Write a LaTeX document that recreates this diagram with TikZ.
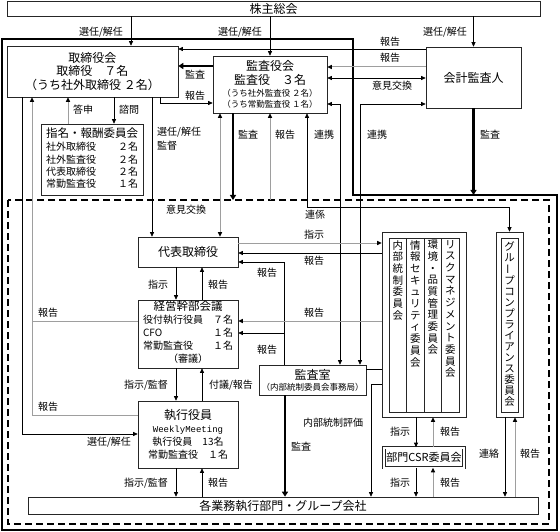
\documentclass[tikz,border=0pt]{standalone}
\usepackage{fontspec}
\setmainfont{Noto Sans CJK JP}
\newfontfamily\monofont{Liberation Mono}
\usepackage{graphicx}
\usetikzlibrary{arrows.meta}

\tikzset{
  box/.style={draw=black!85, line width=0.6pt, inner sep=0pt, align=center},
  arr/.style={-{Triangle[length=4.5pt,width=4pt,color=black]}},
  darr/.style={{Triangle[length=4.5pt,width=4pt,color=black]}-{Triangle[length=4.5pt,width=4pt,color=black]}},
  bln/.style={draw=black, line width=0.6pt},
  gln/.style={draw=black!38, line width=1pt},
  heavy/.style={draw=black, line width=2.2pt, -{Triangle[length=5pt,width=6pt]}},
  lbl/.style={font=\fontsize{10}{12}\selectfont, inner sep=0pt},
  vtxt/.style={font=\fontsize{10.5}{11.7}\selectfont, align=center, inner sep=0pt, anchor=north},
}

\begin{document}
\begin{tikzpicture}[x=1pt,y=-1pt]
\useasboundingbox (0,0) rectangle (560,532);

% outer frame and execution area
\draw[line width=1.6pt] (2,39) -- (353,39) -- (353,195) -- (557,195) -- (557,530) -- (2,530) -- cycle;
\draw[line width=1.4pt, dash pattern=on 7pt off 4pt] (8,200) rectangle (549,524);
\coordinate (dtop) at (8,200);
\coordinate (ftop) at (557,195);

% boxes
\node[box, minimum width=533pt, minimum height=15pt, font=\fontsize{12}{12}\selectfont] (soukai) at (273.5,8.5) {株主総会};
\node[box, minimum width=171pt, minimum height=51pt, font=\fontsize{12}{13.5}\selectfont] (torishimari) at (92.5,71.5) {取締役会\\取締役　７名\\（うち社外取締役\ ２名）};
\node[box, minimum width=114pt, minimum height=57pt, font=\fontsize{12}{14}\selectfont] (kansayaku) at (270,84.5) {監査役会\\監査役　３名\\[-2pt]{\fontsize{8.5}{10}\selectfont （うち社外監査役\ ２名）}\\[-3pt]{\fontsize{8.5}{10}\selectfont （うち常勤監査役\ １名）}};
\node[box, minimum width=95pt, minimum height=61pt, font=\fontsize{12}{12}\selectfont] (kaikei) at (473.5,77.5) {会計監査人};
\node[box, minimum width=102pt, minimum height=71pt, font=\fontsize{10}{12.3}\selectfont] (shimei) at (92,159.5) {\begin{tabular}{@{}l@{\hspace{22pt}}r@{}}\multicolumn{2}{@{}c@{}}{\fontsize{11.5}{13}\selectfont 指名・報酬委員会}\\[1pt] 社外取締役 & ２名\\ 社外監査役 & ２名\\ 代表取締役 & ２名\\ 常勤監査役 & １名\end{tabular}};
\node[box, minimum width=100pt, minimum height=30pt, font=\fontsize{12}{12}\selectfont] (daihyo) at (188,252) {代表取締役};
\node[box, minimum width=100pt, minimum height=68pt, font=\fontsize{10}{13}\selectfont] (keiei) at (188,334) {\begin{tabular}{@{}l@{\hspace{10pt}}r@{}}\multicolumn{2}{@{}c@{}}{\fontsize{11.5}{13}\selectfont 経営幹部会議}\\ 役付執行役員 & ７名\\ CFO & １名\\ 常勤監査役 & １名\\ \multicolumn{2}{@{}c@{}}{（審議）}\end{tabular}};
\node[box, minimum width=100pt, minimum height=67pt, font=\fontsize{10}{13}\selectfont] (shikko) at (188,434.5) {{\fontsize{12}{13}\selectfont 執行役員}\\{\monofont\fontsize{9}{12}\selectfont WeeklyMeeting}\\執行役員　13名\\常勤監査役　１名};
\node[box, minimum width=510pt, minimum height=17pt, font=\fontsize{12}{12}\selectfont] (kakugyomu) at (283,505.5) {各業務執行部門・グループ会社};
\node[box, minimum width=107pt, minimum height=30pt, font=\fontsize{12}{13}\selectfont] (kansashitsu) at (312.5,380) {監査室\\[-2pt]{\fontsize{8.5}{10}\selectfont （内部統制委員会事務局）}};
\node[box, double, double distance=2pt, minimum width=80pt, minimum height=20pt, font=\fontsize{11}{11}\selectfont] (csr) at (424,457.5) {部門CSR委員会};

% committees
\node[box, minimum width=84pt, minimum height=185pt] (iinkai) at (424,324.5) {};
\draw[black!85, line width=0.6pt] (389,238) rectangle (459,412);
\foreach \cx in {406.5,424,441.5}
  \draw[black!85, line width=0.6pt] (\cx,238) -- (\cx,412);
\node[vtxt] (naibu) at (397.75,240) {内\\部\\統\\制\\委\\員\\会};
\node[vtxt] (joho) at (415.25,240) {情\\報\\セ\\キ\\ュ\\リ\\テ\\ィ\\委\\員\\会};
\node[vtxt] (kankyo) at (432.75,240) {環\\境\\・\\品\\質\\管\\理\\委\\員\\会};
\node[vtxt] (risk) at (450.25,240) {リ\\ス\\ク\\マ\\ネ\\ジ\\メ\\ン\\ト\\委\\員\\会};

\node[box, minimum width=27pt, minimum height=185pt] (group) at (509.5,324.5) {};
\draw[black!85, line width=0.6pt] (501,238) rectangle (518,412);
\node[vtxt, font=\fontsize{10.5}{11}\selectfont] (grouptxt) at (509.5,241) {グ\\ル\\\rotatebox[origin=c]{90}{ー}\\プ\\コ\\ン\\プ\\ラ\\イ\\ア\\ン\\ス\\委\\員\\会};

% shareholders
\draw[bln,arr] (131,0 |- soukai.south) -- (131,0 |- torishimari.north);
\draw[bln,arr] (270,0 |- soukai.south) -- (kansayaku.north);
\draw[bln,arr] (kaikei.north |- soukai.south) -- (kaikei.north);
\node[lbl] (lbSen1) at (101,32) {選任/解任};
\node[lbl] (lbSen2) at (240,32) {選任/解任};
\node[lbl] (lbSen3) at (445,32) {選任/解任};

% accounting auditor
\draw[bln,arr] (kaikei.west |- 0,49) -- (torishimari.east |- 0,49);
\draw[gln,arr] (kaikei.west |- 0,67) -- (kansayaku.east |- 0,67);
\draw[bln,darr] (kansayaku.east |- 0,78) -- (kaikei.west |- 0,78);
\draw[heavy] (kaikei.south) -- (kaikei.south |- ftop);
\node[lbl] (lbHo1) at (390,42) {報告};
\node[lbl] (lbHo2) at (390,58) {報告};
\node[lbl] (lbIken1) at (392,86) {意見交換};
\node[lbl] (lbKan4) at (490,135) {監査};

% board and auditors
\draw[heavy] (kansayaku.west |- 0,66) -- (torishimari.east |- 0,66);
\draw[bln,arr] (160,0 |- torishimari.south) -- (160,103) -- (kansayaku.west |- 0,103);
\node[lbl] (lbKan1) at (195,75) {監査};
\node[lbl] (lbHo3) at (195,96) {報告};

\draw[gln,arr] (68,0 |- shimei.north) -- (68,0 |- torishimari.south);
\draw[bln,arr] (114,0 |- torishimari.south) -- (114,0 |- shimei.north);
\node[lbl] (lbTo) at (83,110) {答申};
\node[lbl] (lbShi) at (129,110) {諮問};

\draw[bln,arr] (152,0 |- torishimari.south) -- (152,0 |- daihyo.north);
\node[lbl, align=left, anchor=north west, font=\fontsize{10}{14}\selectfont] (lbKantoku) at (157,127) {選任/解任\\監督};

\draw[gln,darr] (220,0 |- daihyo.north) -- (220,0 |- kansayaku.south);
\node[lbl] (lbIken2) at (186,210) {意見交換};
\draw[heavy] (233,0 |- kansayaku.south) -- (233,0 |- dtop);
\draw[gln,arr] (270,0 |- dtop) -- (270,0 |- kansayaku.south);
\draw[bln,darr] (307,0 |- kansayaku.south) -- (307,207) -- (group.north |- 0,207) -- (group.north);
\draw[bln,darr] (340,0 |- kansashitsu.north) -- (340,104) -- (kansayaku.east |- 0,104);
\draw[bln,darr] (360,0 |- kansashitsu.north) -- (360,104) -- (kaikei.west |- 0,104);
\node[lbl] (lbKan2) at (248,135) {監査};
\node[lbl] (lbHo4) at (285,135) {報告};
\node[lbl] (lbRen1) at (324,135) {連携};
\node[lbl] (lbRen2) at (377,135) {連携};
\node[lbl] (lbRen3) at (315,215) {連係};

% president and committees
\draw[gln,arr] (daihyo.east |- 0,243) -- (iinkai.west |- 0,243);
\draw[bln,arr] (iinkai.west |- 0,253) -- (daihyo.east |- 0,253);
\draw[bln,arr] (284,0 |- kansashitsu.north) -- (284,262) -- (daihyo.east |- 0,262);
\draw[bln,arr] (284,333) -- (keiei.east |- 0,333);
\draw[gln,arr] (iinkai.west |- 0,321) -- (keiei.east |- 0,321);
\node[lbl] (lbShiji1) at (314,235) {指示};
\node[lbl] (lbHo5) at (314,261) {報告};
\node[lbl] (lbHo6) at (267,273) {報告};
\node[lbl] (lbHo7) at (314,313) {報告};
\node[lbl] (lbHo8) at (267,350) {報告};

% execution chain
\draw[bln,arr] (176,0 |- daihyo.south) -- (176,0 |- keiei.north);
\draw[bln,arr] (202,0 |- keiei.north) -- (202,0 |- daihyo.south);
\draw[bln,arr] (176,0 |- keiei.south) -- (176,0 |- shikko.north);
\draw[bln,arr] (202,0 |- shikko.north) -- (202,0 |- keiei.south);
\draw[bln,arr] (176,0 |- shikko.south) -- (176,0 |- kakugyomu.north);
\draw[bln,arr] (202,0 |- kakugyomu.north) -- (202,0 |- shikko.south);
\node[lbl] (lbShiji2) at (158,285) {指示};
\node[lbl] (lbHo9) at (218,285) {報告};
\node[lbl] (lbKantoku2) at (146,385) {指示/監督};
\node[lbl] (lbFugi) at (231,385) {付議/報告};
\node[lbl] (lbKantoku3) at (146,483) {指示/監督};
\node[lbl] (lbHo10) at (218,483) {報告};

% reports to the board
\draw[gln,arr] (keiei.west |- 0,321) -- (32,321) -- (32,0 |- torishimari.south);
\draw[gln] (shikko.west |- 0,415) -- (32,415) -- (32,321);
\draw[bln,arr] (22,0 |- torishimari.south) -- (22,434) -- (shikko.west |- 0,434);
\node[lbl] (lbHo11) at (48,313) {報告};
\node[lbl] (lbHo12) at (48,407) {報告};
\node[lbl] (lbSen4) at (109,442) {選任/解任};

% audit office
\draw[heavy] (285,0 |- kansashitsu.south) -- (285,0 |- kakugyomu.north);
\draw[bln] (kansashitsu.east |- 0,369) -- (iinkai.west |- 0,369);
\draw[bln,arr] (iinkai.west |- 0,384) -- (371,384) -- (371,0 |- kakugyomu.north);
\node[lbl] (lbNaibu) at (333,423) {内部統制評価};
\node[lbl] (lbKan3) at (301,447) {監査};

% CSR and compliance
\draw[bln,arr] (416,0 |- iinkai.south) -- (416,0 |- csr.north);
\draw[gln,arr] (433,0 |- csr.north) -- (433,0 |- iinkai.south);
\draw[bln,arr] (416,0 |- csr.south) -- (416,0 |- kakugyomu.north);
\draw[gln,arr] (433,0 |- kakugyomu.north) -- (433,0 |- csr.south);
\draw[bln,arr] (505,0 |- group.south) -- (505,0 |- kakugyomu.north);
\draw[gln,arr] (515,0 |- kakugyomu.north) -- (515,0 |- group.south);
\node[lbl] (lbShiji3) at (400,432) {指示};
\node[lbl] (lbHo13) at (450,432) {報告};
\node[lbl] (lbShiji4) at (400,483) {指示};
\node[lbl] (lbHo14) at (450,483) {報告};
\node[lbl] (lbRenraku) at (489,454) {連絡};
\node[lbl] (lbHo15) at (530,454) {報告};

\end{tikzpicture}
\end{document}
